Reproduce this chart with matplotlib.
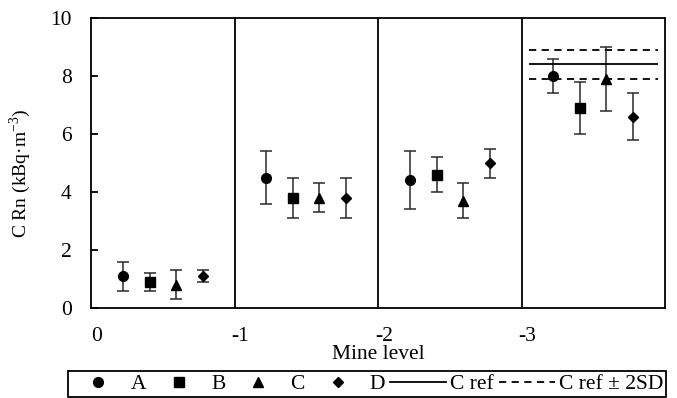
import numpy as np
import matplotlib.pyplot as plt
import matplotlib.transforms as mtransforms
from matplotlib.lines import Line2D

plt.rcParams['font.family'] = 'Liberation Serif'
plt.rcParams['mathtext.fontset'] = 'stix'
plt.rcParams['font.size'] = 15.5

# Dades llegides de la figura
nivells = ["0", "-1", "-2", "-3"]
punts = ["A", "B", "C", "D"]
A = [1.1, 4.5, 4.4, 8.0]
A_err = [0.5, 0.9, 1.0, 0.6]
B = [0.9, 3.8, 4.6, 6.9]
B_err = [0.3, 0.7, 0.6, 0.9]
C = [0.8, 3.8, 3.7, 7.9]
C_err = [0.5, 0.5, 0.6, 1.1]
D = [1.1, 3.8, 5.0, 6.6]
D_err = [0.2, 0.7, 0.5, 0.8]
c_ref = 8.4
c_ref_2sd = 0.5

series = [(A, A_err), (B, B_err), (C, C_err), (D, D_err)]
marcadors = [('o', 7), ('s', 6.5), ('^', 7.5), ('D', 5.5)]
despl = [0.22, 0.41, 0.59, 0.78]

fig = plt.figure(figsize=(6.77, 3.98), dpi=100)
ax = fig.add_axes([91/677, 1-308/398, (665-91)/677, (308-18)/398])

grups = np.arange(len(nivells))
for (vals, errs), (m, ms), dx in zip(series, marcadors, despl):
    ax.errorbar(grups + dx, vals, yerr=errs, fmt=m, ms=ms, color='black',
                ecolor='#2a2a2a', elinewidth=1.1, capsize=4.5, capthick=1.1)

# separadors entre nivells
for g in grups[1:]:
    ax.axvline(g, color='black', lw=1.3)

# valor de referencia
ax.hlines(c_ref, 3.05, 3.95, color='black', lw=1.3)
ax.hlines([c_ref - c_ref_2sd, c_ref + c_ref_2sd], 3.05, 3.95, color='black',
          lw=1.3, linestyles=(0, (4, 3)))

ax.set_xlim(0, 4)
ax.set_ylim(0, 10)
ax.set_yticks([0, 2, 4, 6, 8, 10])
ax.set_xticks(grups)
ax.set_xticklabels(nivells)
ax.tick_params(axis='y', direction='in', length=5, width=1.3, pad=14)
ax.tick_params(axis='x', length=0, pad=14)
off = mtransforms.ScaledTranslation(6/100, 0, fig.dpi_scale_trans)
for lab in ax.get_xticklabels():
    lab.set_transform(lab.get_transform() + off)
for s in ax.spines.values():
    s.set_linewidth(1.3)

ax.set_xlabel('Mine level', labelpad=-1)
ax.set_ylabel(r'C Rn (kBq·m$^{\mathregular{-3}}$)', fontsize=14)
ax.yaxis.set_label_coords(-0.101, 0.466)

handles = [Line2D([], [], ls='none', marker=m, ms=ms, color='black') for m, ms in marcadors]
handles += [Line2D([], [], color='black', lw=1.3),
            Line2D([], [], color='black', lw=1.3, ls=(0, (4, 3)))]
etiquetes = punts + ['C ref', 'C ref ± 2SD']
leg = fig.legend(handles, etiquetes, ncol=6, loc='center',
                 bbox_to_anchor=(367/677, 1-384/398), frameon=True,
                 fancybox=False, edgecolor='black', framealpha=1,
                 borderpad=0.12, handlelength=2.6, handletextpad=0.2,
                 columnspacing=0.22, borderaxespad=0)
leg.get_frame().set_linewidth(1.3)

plt.savefig('out.png', dpi=100)
